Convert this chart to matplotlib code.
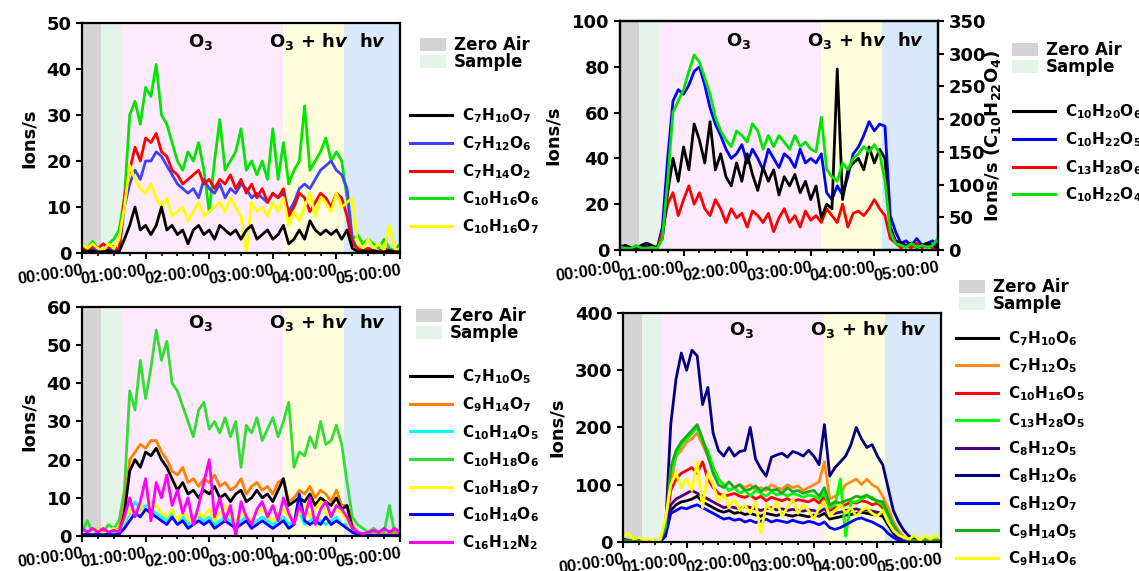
import numpy as np
import matplotlib
matplotlib.use("Agg")
import matplotlib.pyplot as plt
from matplotlib.patches import Patch
from matplotlib.lines import Line2D

plt.rcParams['font.family'] = 'DejaVu Sans'
plt.rcParams['font.weight'] = 'bold'
plt.rcParams['axes.labelweight'] = 'bold'
plt.rcParams['mathtext.fontset'] = 'custom'
plt.rcParams['mathtext.rm'] = 'DejaVu Sans:bold'
plt.rcParams['mathtext.bf'] = 'DejaVu Sans:bold'
plt.rcParams['mathtext.it'] = 'DejaVu Sans:bold:italic'

# time axis: one reading every 5 minutes, in hours
minutes = np.arange(0, 301, 5)
t_hours = minutes / 60
hour_ticks = [0, 1, 2, 3, 4, 5]
hour_labels = ['00:00:00', '01:00:00', '02:00:00', '03:00:00', '04:00:00', '05:00:00']

# experiment phases (hours) and their shading
phase_edges = [0, 0.30, 0.61, 3.16, 4.12, 5.0]
phase_colors = ['#d4d4d4', '#e4f4e8', '#fdeafc', '#ffffdd', '#d9e9fb']

# ---- panel 1 ----
p1_c7h10o7 = [0.5, 0.3, 0.5, 0.2, 0.3, 0.5, 0.2, 0.3, 3, 6, 10, 5,
              6, 4, 6, 10, 5, 6, 4, 5, 2, 5, 6, 4,
              5, 3, 6, 5, 4, 5, 3, 5, 6, 3, 4, 5,
              3, 4, 6, 2, 3, 5, 3, 7, 5, 4, 5, 4,
              5, 3, 5, 1, 0.3, 0.5, 0.3, 0.5, 0.2, 0.3, 0.5, 0.2,
              0.3]
p1_c7h12o6 = [1, 0.5, 1, 0.5, 0.2, 1, 0.5, 0.5, 10, 15, 18, 16,
              20, 20, 22, 21, 19, 17, 15, 14, 13, 14, 12, 16,
              14, 13, 15, 12, 14, 13, 15, 14, 12, 13, 12, 11,
              13, 12, 13, 9, 11, 14, 15, 14, 16, 18, 19, 20,
              18, 17, 14, 3, 1, 0.5, 1, 0.5, 0.3, 1, 0.5, 0.3,
              0.5]
p1_c7h14o2 = [1, 0.5, 1.5, 1, 2, 1, 1.5, 0.5, 12, 18, 23, 20,
              25, 24, 26, 22, 21, 18, 17, 15, 16, 17, 18, 15,
              16, 14, 16, 15, 17, 14, 16, 13, 15, 12, 14, 11,
              13, 12, 14, 8, 10, 13, 12, 9, 11, 13, 12, 10,
              13, 12, 8, 2, 1, 0.5, 1, 0.5, 0.3, 1, 0.5, 0.3,
              0.5]
p1_c10h16o6 = [2, 1, 2.5, 1, 0.5, 2, 3, 5, 12, 30, 33, 28,
               36, 34, 41, 30, 28, 24, 20, 18, 22, 20, 24, 18,
               9, 20, 29, 18, 20, 22, 27, 18, 20, 17, 20, 16,
               27, 16, 24, 15, 18, 20, 32, 18, 20, 22, 25, 20,
               22, 20, 12, 3, 4, 2, 3, 2, 1, 3, 1, 0.5,
               2]
p1_c10h16o7 = [2, 1, 2, 1, 0.5, 2, 1, 3, 10, 19, 16, 14,
               13, 15, 12, 10, 12, 8, 9, 10, 7, 9, 11, 8,
               9, 10, 11, 9, 12, 10, 8, 0, 11, 9, 10, 8,
               11, 9, 12, 6, 9, 7, 10, 13, 8, 12, 11, 9,
               13, 10, 11, 12, 2, 1, 3, 1, 2, 0.5, 6, 1,
               0.5]

# ---- panel 2 ----
p2_c10h20o6 = [1, 2, 1, 0.5, 2, 3, 2, 1, 5, 25, 40, 30,
               45, 35, 55, 48, 38, 56, 35, 42, 32, 28, 38, 30,
               42, 33, 26, 36, 30, 35, 24, 32, 28, 33, 25, 30,
               22, 28, 14, 20, 18, 79, 22, 35, 38, 40, 35, 45,
               38, 44, 40, 10, 4, 3, 2, 3, 1, 2, 3, 2,
               1]
p2_c10h22o5 = [1, 2, 1, 0.5, 1, 2, 1, 0.5, 10, 40, 65, 70,
               68, 72, 78, 80, 72, 62, 55, 50, 44, 40, 42, 46,
               38, 44, 40, 35, 44, 40, 36, 42, 40, 36, 44, 38,
               40, 38, 42, 25, 22, 28, 24, 32, 42, 45, 50, 56,
               52, 55, 54, 15, 8, 3, 4, 2, 5, 2, 3, 4,
               2]
p2_c13h28o6 = [2, 1, 0.5, 1, 0.5, 1, 0.5, 0.5, 8, 20, 25, 15,
               22, 28, 20, 25, 18, 15, 22, 18, 12, 18, 14, 16,
               10, 17, 15, 12, 16, 8, 14, 18, 12, 15, 10, 17,
               13, 15, 12, 18, 15, 12, 20, 10, 16, 17, 15, 18,
               22, 18, 15, 5, 3, 1, 2, 1, 3, 1, 2, 1,
               1]
# plotted on the right axis (0-350)
p2_c10h22o4 = [4, 3, 2, 7, 3, 2, 4, 2, 18, 105, 210, 228,
               245, 273, 298, 287, 263, 238, 203, 182, 168, 158, 182, 175,
               165, 193, 182, 154, 175, 158, 175, 165, 154, 175, 158, 165,
               154, 150, 203, 123, 112, 105, 133, 123, 140, 147, 158, 150,
               161, 147, 105, 28, 10, 7, 4, 10, 4, 7, 4, 7,
               18]

# ---- panel 3 ----
p3_c7h10o5 = [0.5, 0.3, 1, 0.5, 0.3, 0.5, 0.3, 0.5, 6, 17, 20, 18,
              22, 21, 23, 20, 18, 15, 12, 14, 11, 12, 10, 12,
              11, 13, 10, 11, 9, 11, 12, 9, 10, 12, 10, 11,
              9, 12, 15, 8, 9, 10, 9, 11, 8, 10, 9, 8,
              10, 7, 8, 2, 0.5, 0.3, 0.5, 0.3, 0.5, 0.3, 0.5, 0.3,
              0.5]
p3_c9h14o7 = [1, 0.5, 1, 2, 1, 0.5, 1, 2, 8, 20, 22, 24,
              23, 25, 25, 22, 20, 17, 16, 18, 14, 15, 13, 15,
              14, 16, 13, 14, 12, 13, 15, 11, 13, 14, 12, 13,
              11, 14, 15, 9, 10, 12, 11, 13, 10, 12, 11, 9,
              12, 8, 8, 3, 1, 0.5, 1, 0.5, 1, 0.3, 0.5, 1,
              0.5]
p3_c10h14o5 = [0.5, 1, 0.5, 1, 0.5, 1, 0.5, 1, 3, 6, 9, 7,
               8, 7, 6, 5, 4, 6, 4, 5, 3, 4, 5, 4,
               5, 3, 4, 5, 4, 3, 4, 5, 3, 4, 5, 4,
               3, 4, 5, 3, 4, 6, 3, 4, 5, 4, 3, 4,
               5, 3, 3, 1, 0.5, 0.3, 0.5, 0.3, 0.5, 0.3, 0.5, 0.3,
               0.5]
p3_c10h18o6 = [1, 4, 1, 2, 1, 3, 2, 4, 12, 38, 33, 46,
               36, 44, 54, 46, 51, 40, 38, 34, 30, 26, 33, 35,
               28, 30, 27, 31, 26, 30, 18, 29, 27, 31, 25, 28,
               31, 26, 30, 35, 18, 22, 21, 26, 23, 30, 24, 25,
               29, 24, 14, 5, 3, 2, 1, 2, 1, 1, 8, 0.5,
               0.5]
p3_c10h18o7 = [1, 0.5, 1, 2, 0.5, 1, 2, 1, 4, 7, 5, 8,
               6, 9, 8, 6, 5, 7, 4, 6, 5, 3, 6, 5,
               7, 4, 6, 8, 5, 4, 6, 5, 4, 6, 7, 5,
               4, 6, 7, 5, 4, 6, 8, 5, 7, 9, 6, 5,
               7, 6, 4, 1, 0.5, 0.3, 0.5, 0.3, 0.5, 0.3, 0.5, 0.3,
               0.5]
p3_c10h14o6 = [0.3, 0.5, 0.3, 0.5, 0.3, 0.5, 0.3, 0.5, 2, 4, 6, 5,
               7, 6, 5, 4, 3, 5, 3, 4, 2, 3, 4, 3,
               4, 2, 3, 4, 3, 2, 3, 4, 2, 3, 4, 3,
               2, 3, 4, 2, 3, 11, 4, 3, 4, 3, 5, 3,
               4, 3, 2, 1, 0.3, 0.2, 0.3, 0.2, 0.3, 0.2, 0.3, 0.2,
               0.3]
p3_c16h12n2 = [2, 1, 2, 1, 2, 1, 1.5, 1, 5, 10, 5, 9,
               15, 4, 14, 10, 16, 8, 12, 6, 10, 3, 8, 14,
               20, 5, 10, 4, 8, 0, 9, 5, 3, 7, 9, 5,
               8, 4, 10, 6, 3, 8, 5, 10, 3, 7, 9, 5,
               8, 7, 5, 2, 1, 0.5, 1, 1.5, 1, 2, 1, 2,
               1]

# ---- panel 4 ----
p4_c7h10o6 = [3, 2, 1, 2, 1, 1, 2, 1, 12, 55, 65, 70,
              72, 75, 80, 70, 65, 60, 55, 52, 55, 50, 52, 48,
              50, 47, 45, 50, 48, 46, 50, 47, 45, 48, 46, 44,
              47, 45, 50, 40, 42, 44, 47, 48, 50, 52, 50, 48,
              47, 45, 30, 15, 6, 3, 2, 1, 2, 1, 2, 1,
              1]
p4_c7h12o5 = [3, 2, 3, 1, 2, 1, 2, 2, 30, 100, 150, 160,
              175, 180, 190, 170, 150, 130, 110, 100, 90, 95, 100, 95,
              100, 92, 95, 90, 100, 95, 92, 100, 95, 98, 90, 95,
              100, 105, 140, 75, 80, 85, 100, 105, 110, 100, 110, 100,
              95, 80, 60, 35, 20, 8, 4, 3, 2, 3, 2, 3,
              2]
p4_c10h16o5 = [2, 1, 2, 1, 1, 2, 1, 1, 20, 90, 110, 120,
               125, 130, 120, 140, 110, 95, 85, 80, 82, 85, 80, 78,
               82, 75, 80, 72, 78, 75, 72, 76, 70, 74, 72, 70,
               75, 68, 80, 55, 60, 62, 65, 70, 68, 72, 70, 65,
               68, 60, 45, 25, 12, 5, 3, 2, 3, 2, 3, 2,
               2]
p4_c13h28o5 = [3, 2, 3, 2, 1, 2, 3, 2, 20, 120, 150, 170,
               180, 190, 200, 175, 160, 130, 110, 100, 90, 95, 85, 90,
               80, 90, 85, 80, 88, 82, 85, 80, 85, 82, 78, 82,
               80, 75, 85, 60, 65, 110, 10, 70, 70, 75, 80, 78,
               70, 65, 45, 25, 12, 5, 3, 4, 3, 4, 3, 4,
               3]
p4_c8h12o5 = [2, 1, 2, 1, 1, 2, 1, 1, 15, 65, 75, 80,
              85, 90, 85, 80, 75, 70, 65, 60, 62, 60, 58, 62,
              60, 58, 55, 58, 60, 56, 58, 55, 57, 55, 54, 56,
              55, 52, 58, 48, 50, 52, 55, 56, 58, 55, 56, 54,
              52, 50, 35, 20, 10, 4, 2, 1, 2, 1, 2, 1,
              1]
p4_c8h12o6 = [5, 3, 2, 4, 2, 1, 3, 2, 20, 205, 285, 330,
              300, 335, 325, 240, 270, 190, 160, 150, 165, 150, 158, 160,
              200, 145, 128, 115, 148, 152, 155, 148, 158, 155, 150, 160,
              150, 135, 205, 115, 130, 140, 150, 170, 200, 180, 165, 170,
              150, 135, 95, 55, 35, 20, 10, 5, 3, 4, 3, 2,
              4]
p4_c8h12o7 = [1, 0.5, 1, 0.5, 1, 0.5, 1, 0.5, 10, 50, 55, 60,
              58, 62, 65, 60, 55, 50, 45, 40, 42, 38, 40, 35,
              38, 34, 36, 40, 35, 38, 36, 34, 38, 35, 33, 36,
              34, 30, 35, 25, 22, 25, 30, 35, 40, 42, 38, 35,
              30, 25, 15, 8, 3, 1, 0.5, 1, 0.5, 1, 0.5, 1,
              0.5]
p4_c9h14o5 = [3, 2, 3, 2, 2, 1, 2, 2, 25, 130, 160, 175,
              185, 195, 205, 180, 150, 120, 100, 95, 105, 95, 100, 90,
              92, 98, 88, 95, 90, 92, 85, 95, 88, 90, 85, 88,
              90, 80, 95, 65, 70, 68, 72, 75, 80, 78, 82, 75,
              72, 70, 50, 30, 15, 6, 4, 3, 4, 3, 4, 3,
              4]
p4_c9h14o6 = [10, 15, 5, 8, 3, 5, 2, 4, 40, 100, 120, 95,
              110, 90, 140, 60, 120, 100, 70, 85, 60, 75, 55, 65,
              50, 70, 15, 65, 55, 70, 45, 60, 75, 50, 65, 55,
              40, 60, 70, 45, 55, 65, 50, 60, 45, 55, 60, 50,
              45, 55, 35, 20, 12, 8, 5, 12, 3, 10, 5, 12,
              6]


def shade_and_style(ax, ymax, ystep, label_y):
    for i in range(len(phase_colors)):
        ax.axvspan(phase_edges[i], phase_edges[i + 1], color=phase_colors[i], lw=0, zorder=0)
    ax.set_xlim(0, 5)
    ax.set_ylim(0, ymax)
    ax.set_yticks(np.arange(0, ymax + 1, ystep))
    ax.set_xticks(hour_ticks)
    ax.set_xticks(np.arange(0, 5.01, 0.25), minor=True)
    ax.set_xticklabels(hour_labels, rotation=8, ha='right', rotation_mode='anchor',
                       fontfamily='Liberation Sans', fontsize=12, fontweight='bold')
    ax.tick_params(axis='y', labelsize=13, length=4, width=1.5)
    ax.tick_params(axis='x', which='major', length=4, width=1.5, pad=3)
    ax.tick_params(axis='x', which='minor', length=2.5, width=1.2)
    for s in ax.spines.values():
        s.set_linewidth(1.6)
    tr = ax.get_xaxis_transform()
    ax.text(1.87, label_y, 'O$_3$', transform=tr, ha='center', va='baseline', fontsize=13)
    ax.text(3.56, label_y, 'O$_3$ + h$\\mathit{v}$', transform=tr, ha='center', va='baseline', fontsize=13)
    ax.text(4.57, label_y, 'h$\\mathit{v}$', transform=tr, ha='center', va='baseline', fontsize=13)


def add_legends(fig, patch_xy, line_xy, colors, labels):
    patches = [Patch(facecolor=phase_colors[0], edgecolor='none'),
               Patch(facecolor=phase_colors[1], edgecolor='none')]
    fig.legend(patches, ['Zero Air', 'Sample'], loc='upper left', bbox_to_anchor=patch_xy,
               frameon=False, fontsize=12, borderpad=0, borderaxespad=0,
               handlelength=1.55, handleheight=0.8, handletextpad=0.5, labelspacing=-0.05)
    lines = [Line2D([], [], color=c, lw=2.2) for c in colors]
    fig.legend(lines, labels, loc='upper left', bbox_to_anchor=line_xy,
               frameon=False, fontsize=11, borderpad=0, borderaxespad=0,
               handlelength=2.75, handletextpad=0.65, labelspacing=0.58)


fig = plt.figure(figsize=(11.39, 5.71), dpi=100)
lw = 2.0

# panel 1
ax1 = fig.add_axes([0.0720, 0.5569, 0.2792, 0.4028])
shade_and_style(ax1, 50, 10, 0.895)
p1_colors = ['black', '#4040ff', '#ff0000', '#00e600', '#ffff00']
p1_labels = ['C$_{7}$H$_{10}$O$_{7}$', 'C$_{7}$H$_{12}$O$_{6}$', 'C$_{7}$H$_{14}$O$_{2}$',
             'C$_{10}$H$_{16}$O$_{6}$', 'C$_{10}$H$_{16}$O$_{7}$']
ax1.plot(t_hours, p1_c10h16o6, color=p1_colors[3], lw=lw)
ax1.plot(t_hours, p1_c7h12o6, color=p1_colors[1], lw=lw)
ax1.plot(t_hours, p1_c7h14o2, color=p1_colors[2], lw=lw)
ax1.plot(t_hours, p1_c10h16o7, color=p1_colors[4], lw=lw)
ax1.plot(t_hours, p1_c7h10o7, color=p1_colors[0], lw=lw)
ax1.set_ylabel('Ions/s', fontsize=13)
ax1.yaxis.set_label_coords(-0.138, 0.5)
add_legends(fig, (0.3687, 0.937), (0.360, 0.813), p1_colors, p1_labels)

# panel 2
ax2 = fig.add_axes([0.5443, 0.5622, 0.2792, 0.4011])
shade_and_style(ax2, 100, 20, 0.89)
p2_colors = ['black', '#0000ff', '#ff0000', '#00e600']
p2_labels = ['C$_{10}$H$_{20}$O$_{6}$', 'C$_{10}$H$_{22}$O$_{5}$', 'C$_{13}$H$_{28}$O$_{6}$',
             'C$_{10}$H$_{22}$O$_{4}$']
ax2.plot(t_hours, p2_c10h22o5, color=p2_colors[1], lw=lw)
ax2.plot(t_hours, p2_c13h28o6, color=p2_colors[2], lw=lw)
ax2.plot(t_hours, p2_c10h20o6, color=p2_colors[0], lw=lw)
ax2.set_ylabel('Ions/s', fontsize=13)
ax2.yaxis.set_label_coords(-0.182, 0.5)
ax2r = ax2.twinx()
ax2r.plot(t_hours, p2_c10h22o4, color=p2_colors[3], lw=lw)
ax2r.set_ylim(0, 350)
ax2r.set_yticks(np.arange(0, 351, 50))
ax2r.tick_params(axis='y', labelsize=13, length=4, width=1.5)
ax2r.set_ylabel('Ions/s (C$_{10}$H$_{22}$O$_{4}$)', fontsize=13)
ax2r.yaxis.set_label_coords(1.138, 0.5)
for s in ax2r.spines.values():
    s.set_linewidth(1.6)
add_legends(fig, (0.8885, 0.928), (0.8894, 0.820), p2_colors, p2_labels)

# panel 3
ax3 = fig.add_axes([0.0720, 0.0613, 0.2792, 0.4011])
shade_and_style(ax3, 60, 10, 0.908)
p3_colors = ['black', '#ff8000', '#00ffff', '#33dd33', '#ffff00', '#0000ff', '#ff00ff']
p3_labels = ['C$_{7}$H$_{10}$O$_{5}$', 'C$_{9}$H$_{14}$O$_{7}$', 'C$_{10}$H$_{14}$O$_{5}$',
             'C$_{10}$H$_{18}$O$_{6}$', 'C$_{10}$H$_{18}$O$_{7}$', 'C$_{10}$H$_{14}$O$_{6}$',
             'C$_{16}$H$_{12}$N$_{2}$']
ax3.plot(t_hours, p3_c10h18o6, color=p3_colors[3], lw=lw)
ax3.plot(t_hours, p3_c9h14o7, color=p3_colors[1], lw=lw)
ax3.plot(t_hours, p3_c7h10o5, color=p3_colors[0], lw=lw)
ax3.plot(t_hours, p3_c10h14o5, color=p3_colors[2], lw=lw)
ax3.plot(t_hours, p3_c10h18o7, color=p3_colors[4], lw=lw)
ax3.plot(t_hours, p3_c10h14o6, color=p3_colors[5], lw=lw)
ax3.plot(t_hours, p3_c16h12n2, color=p3_colors[6], lw=lw)
ax3.set_ylabel('Ions/s', fontsize=13)
ax3.yaxis.set_label_coords(-0.14, 0.5)
add_legends(fig, (0.3652, 0.462), (0.360, 0.356), p3_colors, p3_labels)

# panel 4
ax4 = fig.add_axes([0.5470, 0.0508, 0.2792, 0.4011])
shade_and_style(ax4, 400, 100, 0.904)
p4_colors = ['black', '#ff8c1a', '#ff0000', '#00ff00', '#4b0082', '#000080', '#0000ff',
             '#1aab1a', '#ffff00']
p4_labels = ['C$_{7}$H$_{10}$O$_{6}$', 'C$_{7}$H$_{12}$O$_{5}$', 'C$_{10}$H$_{16}$O$_{5}$',
             'C$_{13}$H$_{28}$O$_{5}$', 'C$_{8}$H$_{12}$O$_{5}$', 'C$_{8}$H$_{12}$O$_{6}$',
             'C$_{8}$H$_{12}$O$_{7}$', 'C$_{9}$H$_{14}$O$_{5}$', 'C$_{9}$H$_{14}$O$_{6}$']
p4_series = [p4_c7h10o6, p4_c7h12o5, p4_c10h16o5, p4_c13h28o5, p4_c8h12o5,
             p4_c8h12o6, p4_c8h12o7, p4_c9h14o5, p4_c9h14o6]
for vals, c in zip(p4_series, p4_colors):
    ax4.plot(t_hours, vals, color=c, lw=lw)
ax4.set_ylabel('Ions/s', fontsize=13)
ax4.yaxis.set_label_coords(-0.179, 0.5)
add_legends(fig, (0.842, 0.513), (0.8393, 0.424), p4_colors, p4_labels)

fig.savefig('out.png', dpi=100)
